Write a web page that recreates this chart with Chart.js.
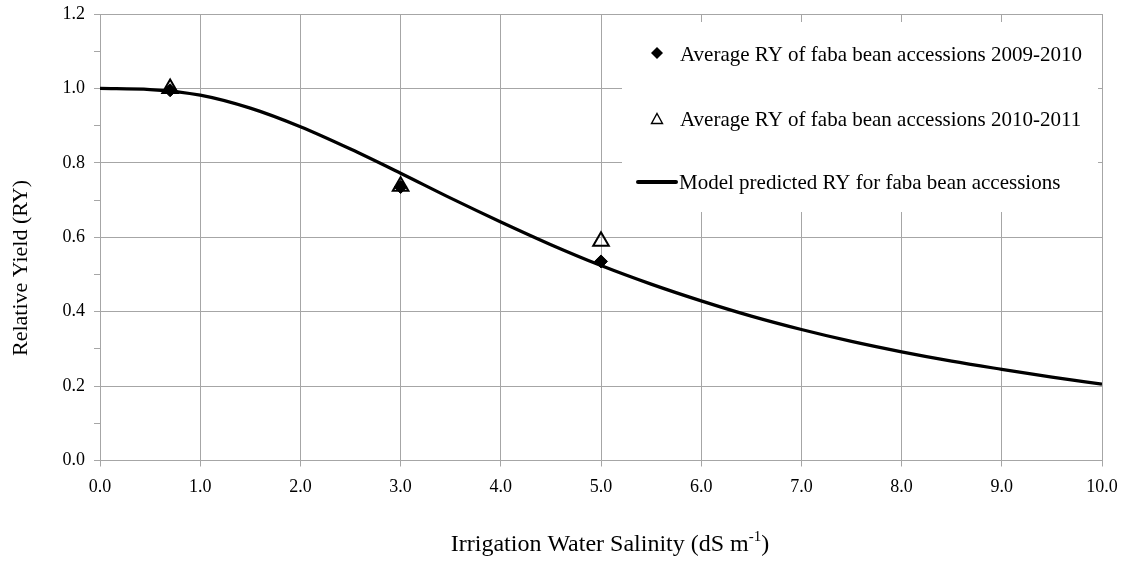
<!DOCTYPE html>
<html><head><meta charset="utf-8">
<script src="https://cdn.jsdelivr.net/npm/chart.js@4.4.0/dist/chart.umd.min.js"></script>
<style>html,body{margin:0;padding:0;background:#fff}#wrap{width:1129px;height:568px;position:relative}</style>
</head><body><div id="wrap"><canvas id="c"></canvas></div>
<script>
// ---- data ----
const xTitleMain = "Irrigation Water Salinity (dS m";
const xTitleSup = "-1";
const xTitleEnd = ")";
const yTitle = "Relative Yield (RY)";
const seriesLabels = [
  "Average RY of faba bean accessions 2009-2010",
  "Average RY of faba bean accessions 2010-2011",
  "Model predicted RY for faba bean accessions"
];
const obsSalinity = [0.7, 3.0, 5.0];
const ry2009 = [0.995, 0.735, 0.535];
const ry2010 = [1.0, 0.737, 0.589];
const modelSalinity = [0, 0.5, 1.0, 1.5, 2.0, 2.5, 3.0, 3.5, 4.0, 4.5, 5.0, 5.5, 6.0, 6.5, 7.0, 7.5, 8.0, 8.5, 9.0, 9.5, 10.0];
const modelRY = [1.000, 0.997, 0.982, 0.947, 0.897, 0.837, 0.772, 0.705, 0.641, 0.580, 0.524, 0.474, 0.429, 0.388, 0.352, 0.320, 0.292, 0.267, 0.245, 0.224, 0.205];
const xTicks = [0, 1, 2, 3, 4, 5, 6, 7, 8, 9, 10];
const yTicks = [0, 0.2, 0.4, 0.6, 0.8, 1.0, 1.2];

// ---- style ----
const FONT = "'Liberation Serif', 'Times New Roman', serif";
const GRID = '#a6a6a6';
const isMajorY = v => yTicks.some(t => Math.abs(t - v) < 1e-6);
const yAll = [];
yTicks.forEach((t, i) => { yAll.push(t); if (i < yTicks.length - 1) yAll.push((t + yTicks[i + 1]) / 2); });

const legendPlugin = {
  id: 'inLegend',
  beforeDatasetsDraw(chart) {
    const ctx = chart.ctx;
    ctx.save();
    ctx.fillStyle = '#fff';
    ctx.fillRect(622, 22, 476, 190);
    ctx.fillStyle = '#000';
    ctx.font = "21px " + FONT;
    ctx.textBaseline = 'alphabetic';
    ctx.textAlign = 'left';
    // diamond
    const dx = 657, dy = 53, r = 6;
    ctx.beginPath();
    ctx.moveTo(dx, dy - r); ctx.lineTo(dx + r, dy); ctx.lineTo(dx, dy + r); ctx.lineTo(dx - r, dy); ctx.closePath();
    ctx.fill();
    ctx.fillText(seriesLabels[0], 680, 61);
    // triangle
    const tx = 657, ty = 119;
    ctx.beginPath();
    ctx.moveTo(tx, ty - 5.5); ctx.lineTo(tx + 5.5, ty + 4.5); ctx.lineTo(tx - 5.5, ty + 4.5); ctx.closePath();
    ctx.lineWidth = 1.4; ctx.strokeStyle = '#000'; ctx.stroke();
    ctx.fillText(seriesLabels[1], 680, 126);
    // line
    ctx.beginPath(); ctx.moveTo(638, 182); ctx.lineTo(676, 182);
    ctx.lineWidth = 4; ctx.lineCap = 'round'; ctx.stroke();
    ctx.fillText(seriesLabels[2], 679, 189);
    ctx.restore();
  },
  afterDraw(chart) {
    const ctx = chart.ctx;
    ctx.save();
    ctx.fillStyle = '#000';
    const mainFont = "24px " + FONT;
    const supFont = "15px " + FONT;
    ctx.textBaseline = 'alphabetic';
    ctx.font = mainFont;
    const w1 = ctx.measureText(xTitleMain).width;
    const w3 = ctx.measureText(xTitleEnd).width;
    ctx.font = supFont;
    const w2 = ctx.measureText(xTitleSup).width;
    let x = 610 - (w1 + w2 + w3) / 2;
    const base = 551;
    ctx.textAlign = 'left';
    ctx.font = mainFont;
    ctx.fillText(xTitleMain, x, base);
    ctx.font = supFont;
    ctx.fillText(xTitleSup, x + w1, base - 10);
    ctx.font = mainFont;
    ctx.fillText(xTitleEnd, x + w1 + w2, base);
    // y title
    ctx.font = "22px " + FONT;
    ctx.translate(21, 268);
    ctx.rotate(-Math.PI / 2);
    ctx.textAlign = 'center';
    ctx.textBaseline = 'middle';
    ctx.fillText(yTitle, 0, 0);
    ctx.restore();
  }
};

new Chart(document.getElementById('c'), {
  type: 'scatter',
  data: {
    datasets: [
      {
        label: seriesLabels[2],
        data: modelSalinity.map((x, i) => ({ x, y: modelRY[i] })),
        showLine: true, borderColor: '#000', borderWidth: 3.2,
        pointRadius: 0, pointHoverRadius: 0, cubicInterpolationMode: 'monotone', order: 3
      },
      {
        label: seriesLabels[0],
        data: obsSalinity.map((x, i) => ({ x, y: ry2009[i] })),
        pointStyle: 'rectRot', pointRadius: 6.5, backgroundColor: '#000', borderColor: '#000', borderWidth: 1, order: 2
      },
      {
        label: seriesLabels[1],
        data: obsSalinity.map((x, i) => ({ x, y: ry2010[i] })),
        pointStyle: 'triangle', pointRadius: 9, backgroundColor: 'rgba(0,0,0,0)', borderColor: '#000', borderWidth: 2, order: 1
      }
    ]
  },
  options: {
    responsive: true, maintainAspectRatio: false, animation: false,
    layout: { padding: { top: 14, right: 27, left: 0, bottom: 0 } },
    plugins: { legend: { display: false }, tooltip: { enabled: false } },
    scales: {
      x: {
        type: 'linear', min: 0, max: 10,
        afterBuildTicks: s => { s.ticks = xTicks.map(v => ({ value: v })); },
        afterFit: s => { s.height = 107.5; s.paddingLeft = 0; s.paddingRight = 0; },
        ticks: { callback: v => v.toFixed(1), color: '#000', font: { family: FONT, size: 18 }, padding: 10, maxRotation: 0 },
        grid: { color: GRID, lineWidth: 1, tickLength: 6, tickColor: GRID },
        border: { color: GRID, width: 1 }
      },
      y: {
        type: 'linear', min: 0, max: 1.2,
        afterBuildTicks: s => { s.ticks = yAll.map(v => ({ value: v })); },
        afterFit: s => { s.width = 100; s.paddingTop = 0; s.paddingBottom = 0; },
        ticks: { callback: v => isMajorY(v) ? v.toFixed(1) : '', color: '#000', font: { family: FONT, size: 18 }, padding: 9 },
        grid: {
          color: c => (c.tick && isMajorY(c.tick.value)) ? GRID : 'rgba(0,0,0,0)',
          tickColor: GRID, lineWidth: 1, tickLength: 6
        },
        border: { color: GRID, width: 1 }
      }
    }
  },
  plugins: [legendPlugin]
});
</script></body></html>
